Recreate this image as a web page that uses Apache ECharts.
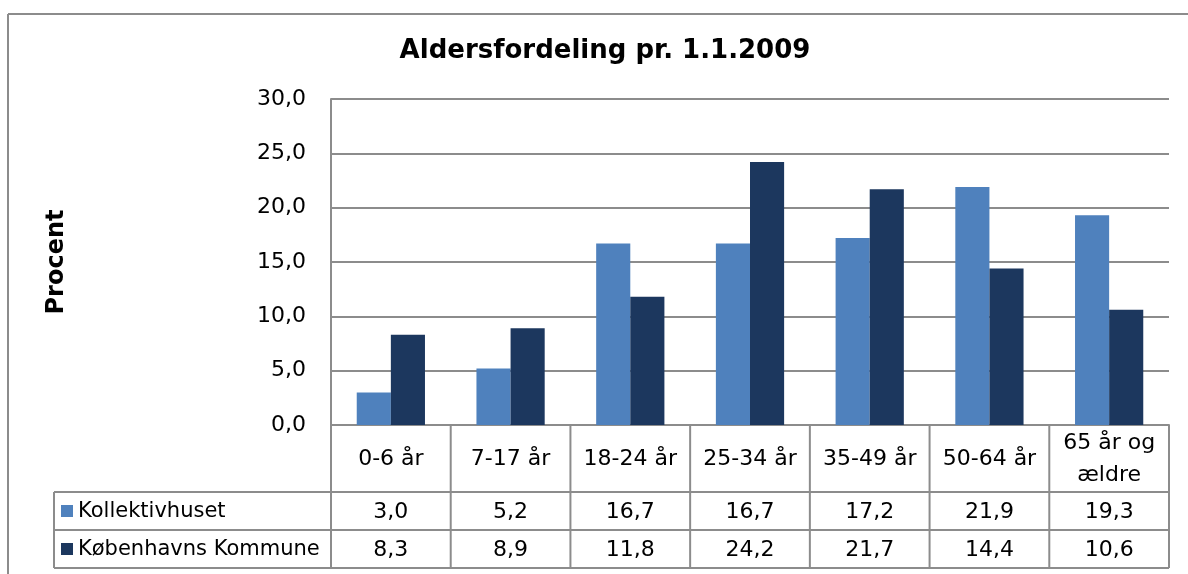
<!DOCTYPE html>
<html>
<head>
<meta charset="utf-8">
<script src="https://cdn.jsdelivr.net/npm/echarts@6/dist/echarts.min.js"></script>
<style>
  html, body { margin: 0; padding: 0; background: #fff; }
  #main { width: 1188px; height: 574px; }
</style>
</head>
<body>
<div id="main"></div>
<script>
// data
const categories = ['0-6 år', '7-17 år', '18-24 år', '25-34 år', '35-49 år', '50-64 år', '65 år og\nældre'];
const kollektivhuset = [3.0, 5.2, 16.7, 16.7, 17.2, 21.9, 19.3];
const kobenhavn = [8.3, 8.9, 11.8, 24.2, 21.7, 14.4, 10.6];
const seriesNames = ['Kollektivhuset', 'Københavns Kommune'];
const yTicks = [0, 5, 10, 15, 20, 25, 30];

const colors = ['#4f81bd', '#1c375e'];
const lineColor = '#8c8c8c';
const font = '"DejaVu Sans", Verdana, sans-serif';

const fmt = v => v.toFixed(1).replace('.', ',');

const grid = { left: 331, right: 19, top: 99, bottom: 149 };

const myChart = echarts.init(document.getElementById('main'), null, { renderer: 'canvas' });

const option = {
    animation: false,
    backgroundColor: '#fff',
    title: {
        text: 'Aldersfordeling pr. 1.1.2009',
        left: 600,
        top: 33,
        textAlign: 'center',
        textStyle: { fontFamily: font, fontSize: 26, fontWeight: 'bold', color: '#000' }
    },
    grid: grid,
    xAxis: {
        type: 'category',
        data: categories,
        axisLine: { show: true, lineStyle: { color: lineColor, width: 2 } },
        axisTick: { show: false },
        axisLabel: { show: false }
    },
    yAxis: {
        type: 'value',
        min: yTicks[0],
        max: yTicks[yTicks.length - 1],
        interval: yTicks[1] - yTicks[0],
        name: 'Procent',
        nameLocation: 'middle',
        nameRotate: 90,
        nameGap: 262,
        nameTextStyle: { fontFamily: font, fontSize: 24, fontWeight: 'bold', color: '#000' },
        axisLine: { show: true, lineStyle: { color: lineColor, width: 2 } },
        axisTick: { show: false },
        axisLabel: {
            margin: 25,
            fontFamily: font,
            fontSize: 22,
            color: '#000',
            formatter: v => fmt(v)
        },
        splitLine: { show: true, lineStyle: { color: lineColor, width: 2 } }
    },
    series: [
        {
            name: seriesNames[0],
            type: 'bar',
            data: kollektivhuset,
            barGap: '0%',
            barCategoryGap: '43%',
            itemStyle: { color: colors[0] }
        },
        {
            name: seriesNames[1],
            type: 'bar',
            data: kobenhavn,
            itemStyle: { color: colors[1] }
        }
    ]
};

myChart.setOption(option);

// data table under the plot, placed from the category scale
const n = categories.length;
const x0 = myChart.convertToPixel({ xAxisIndex: 0 }, 0);
const x1 = myChart.convertToPixel({ xAxisIndex: 0 }, 1);
const band = x1 - x0;
const tableLeft = x0 - band / 2;
const tableRight = tableLeft + band * n;
const yAxis0 = myChart.convertToPixel({ yAxisIndex: 0 }, 0);
const rowCat = yAxis0 + 67;
const rowA = rowCat + 38;
const rowB = rowA + 38;
const legendLeft = 54;

const graphics = [];
const line = (xa, ya, xb, yb) => graphics.push({
    type: 'line',
    shape: { x1: xa, y1: ya, x2: xb, y2: yb },
    style: { stroke: lineColor, lineWidth: 2 },
    silent: true
});
const text = (t, x, y, align, size) => graphics.push({
    type: 'text',
    style: {
        text: t, x: x, y: y,
        align: align || 'center',
        verticalAlign: 'middle',
        fill: '#000',
        font: (size || 22) + 'px ' + font,
        lineHeight: 32
    },
    silent: true
});

// outer chart border (left and top)
line(8, 14, 8, 580);
line(8, 14, 1200, 14);

// vertical lines
for (let i = 0; i <= n; i++) {
    const x = tableLeft + band * i;
    line(x, yAxis0, x, rowB);
}
line(legendLeft, rowCat, legendLeft, rowB);
// horizontal lines
line(legendLeft, rowCat, tableRight, rowCat);
line(legendLeft, rowA, tableRight, rowA);
line(legendLeft, rowB, tableRight, rowB);

categories.forEach((c, i) => {
    const cx = myChart.convertToPixel({ xAxisIndex: 0 }, i);
    text(c, cx, (yAxis0 + rowCat) / 2 + 1);
    text(fmt(kollektivhuset[i]), cx, (rowCat + rowA) / 2 + 1);
    text(fmt(kobenhavn[i]), cx, (rowA + rowB) / 2 + 1);
});

// legend keys in the table
[[rowCat, rowA], [rowA, rowB]].forEach((r, k) => {
    const cy = (r[0] + r[1]) / 2;
    graphics.push({
        type: 'rect',
        shape: { x: legendLeft + 7, y: cy - 6, width: 12, height: 12 },
        style: { fill: colors[k] },
        silent: true
    });
    text(seriesNames[k], legendLeft + 24, cy + 1, 'left', 21);
});

myChart.setOption({ graphic: graphics });
</script>
</body>
</html>
